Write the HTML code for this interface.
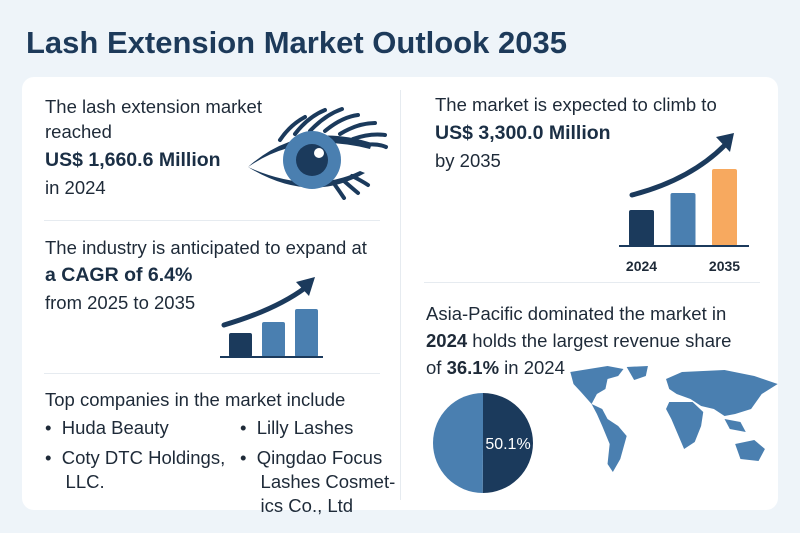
<!DOCTYPE html>
<html><head><meta charset="utf-8"><style>
body{margin:0;width:800px;height:533px;background:#eef4f9;font-family:"Liberation Sans",sans-serif;color:#1e2a38;position:relative;overflow:hidden}
.t{position:absolute;white-space:nowrap;font-size:18.5px;line-height:20px}
.b{font-weight:bold;font-size:19.5px;color:#1b2f45}
</style></head><body>
<div class="t" style="left:26px;top:25px;font-size:31px;line-height:36px;font-weight:bold;color:#1d3a5a">Lash Extension Market Outlook 2035</div>
<div style="position:absolute;left:22px;top:77px;width:756px;height:433px;background:#fff;border-radius:12px"></div>
<div style="position:absolute;left:400px;top:90px;width:1px;height:410px;background:#e6ebf0"></div>
<div style="position:absolute;left:44px;top:220px;width:336px;height:1px;background:#e6ebf0"></div>
<div style="position:absolute;left:44px;top:373px;width:336px;height:1px;background:#e6ebf0"></div>
<div style="position:absolute;left:424px;top:282px;width:336px;height:1px;background:#e6ebf0"></div>

<div class="t" style="left:45px;top:97px">The lash extension market</div>
<div class="t" style="left:45px;top:122px">reached</div>
<div class="t b" style="left:45px;top:150px">US$ 1,660.6 Million</div>
<div class="t" style="left:45px;top:178px">in 2024</div>

<svg style="position:absolute;left:240px;top:95px" width="150" height="105" viewBox="0 0 150 105">
<path d="M8,72 Q60,25 132,48 L130,54 Q60,36 8,72Z" fill="#1b3a5c"/>
<path d="M8,72 Q70,110 125,78 L120,76 Q70,100 8,72Z" fill="#1b3a5c"/>
<g stroke="#1b3a5c" stroke-width="4" fill="none" stroke-linecap="round">
<path d="M40,45 Q50,30 65,22"/><path d="M55,39 Q68,22 85,15"/><path d="M70,36 Q85,20 102,14"/><path d="M85,36 Q102,22 118,20"/><path d="M100,39 Q118,28 135,28"/><path d="M113,44 Q130,38 145,40"/><path d="M124,50 Q137,48 146,52"/>
<path d="M95,90 Q100,97 104,103"/><path d="M104,86 Q112,93 118,98"/><path d="M112,81 Q122,86 128,90"/></g>
<circle cx="72" cy="65" r="29" fill="#4a7fb0"/><circle cx="72" cy="65" r="16" fill="#1b3a5c"/><circle cx="79" cy="58" r="5" fill="#fff"/>
</svg>

<div class="t" style="left:45px;top:238px">The industry is anticipated to expand at</div>
<div class="t b" style="left:45px;top:265px">a CAGR of 6.4%</div>
<div class="t" style="left:45px;top:293px">from 2025 to 2035</div>
<svg id="c1" style="position:absolute;left:0;top:0" width="800" height="533"></svg>

<div class="t" style="left:45px;top:390px">Top companies in the market include</div>
<div class="t" style="left:45px;top:418px">•&nbsp;&nbsp;Huda Beauty</div>
<div class="t" style="left:45px;top:446px;line-height:24px">•&nbsp;&nbsp;Coty DTC Holdings,<br>&nbsp;&nbsp;&nbsp;&nbsp;LLC.</div>
<div class="t" style="left:240px;top:418px">•&nbsp;&nbsp;Lilly Lashes</div>
<div class="t" style="left:240px;top:446px;line-height:24px">•&nbsp;&nbsp;Qingdao Focus<br>&nbsp;&nbsp;&nbsp;&nbsp;Lashes Cosmet-<br>&nbsp;&nbsp;&nbsp;&nbsp;ics Co., Ltd</div>

<div class="t" style="left:435px;top:95px">The market is expected to climb to</div>
<div class="t b" style="left:435px;top:123px">US$ 3,300.0 Million</div>
<div class="t" style="left:435px;top:151px">by 2035</div>

<div class="t" style="left:426px;top:300px;line-height:27px">Asia-Pacific dominated the market in<br><b>2024</b> holds the largest revenue share<br>of <b>36.1%</b> in 2024</div>

<svg style="position:absolute;left:565px;top:364px" width="218" height="115" viewBox="0 0 205 115" preserveAspectRatio="none" fill="#4a7fb0">
<path d="M5,8 L40,2 L55,5 L50,12 L40,15 L38,25 L30,30 L25,40 L15,28 L8,20Z"/>
<path d="M58,3 L78,2 L76,12 L65,16Z"/>
<path d="M25,40 L35,45 L40,55 L50,62 L58,72 L52,95 L45,108 L40,100 L42,80 L35,62 L30,50Z"/>
<path d="M95,15 L110,8 L150,6 L178,12 L200,20 L185,30 L175,45 L160,50 L150,52 L140,45 L128,42 L118,35 L105,30 L98,25Z"/>
<path d="M98,38 L120,38 L130,48 L128,62 L122,78 L112,85 L106,70 L100,55 L95,45Z"/>
<path d="M160,80 L178,76 L188,85 L182,97 L165,95Z"/>
<path d="M150,55 L165,58 L170,68 L155,65Z"/>
</svg>
<svg id="pie" style="position:absolute;left:430px;top:390px" width="110" height="110"></svg>

<svg id="c2" style="position:absolute;left:0;top:0" width="800" height="533"></svg>

<script>
const cagrValues=[24,35,48];
const fcLabels=["2024","","2035"];
const fcValues=[36,53,77];
const pieValues=[50.1,49.9];
const pieLabel="50.1%";
const NS="http://www.w3.org/2000/svg";
function mk(p,tag,a){const e=document.createElementNS(NS,tag);for(const k in a)e.setAttribute(k,a[k]);p.appendChild(e);return e;}
const colors=["#1b3a5c","#4a7fb0","#f7a95f"];
const c1=document.getElementById('c1');
const y1=v=>357-v;
cagrValues.forEach((v,i)=>{const r=mk(c1,'rect',{x:229+i*33,y:y1(v),width:23,height:v,rx:2,fill:i==0?"#1b3a5c":"#4a7fb0"});

});
mk(c1,'line',{x1:220,y1:357,x2:323,y2:357,stroke:"#1b3a5c","stroke-width":2});
mk(c1,'path',{d:"M224,325 Q275,310 305,288",stroke:"#1b3a5c","stroke-width":5,fill:"none","stroke-linecap":"round"});
mk(c1,'path',{d:"M296,282 L315,277 L309,296Z",fill:"#1b3a5c"});
const c2=document.getElementById('c2');
const y2=v=>246-v;
fcValues.forEach((v,i)=>{const x=629+i*41.5;const r=mk(c2,'rect',{x:x,y:y2(v),width:25,height:v,rx:2,fill:colors[i]});


if(fcLabels[i]){const t=mk(c2,'text',{x:x+12.5,y:271,"text-anchor":"middle","font-size":14,"font-weight":"bold","fill":"#1e2a38","font-family":"Liberation Sans"});t.textContent=fcLabels[i];

}});
mk(c2,'line',{x1:619,y1:246,x2:749,y2:246,stroke:"#1b3a5c","stroke-width":2});
mk(c2,'path',{d:"M632,195 Q690,180 725,145",stroke:"#1b3a5c","stroke-width":5,fill:"none","stroke-linecap":"round"});
mk(c2,'path',{d:"M716,137 L734,133 L730,152Z",fill:"#1b3a5c"});
const pie=document.getElementById('pie');
const cx=53,cy=53,R=50;let a0=0;const tot=pieValues[0]+pieValues[1];
const pc=["#1b3a5c","#4a7fb0"];
pieValues.forEach((v,i)=>{const a1=a0+v/tot*2*Math.PI;
const p=mk(pie,'path',{d:`M${cx},${cy} L${cx+R*Math.sin(a0)},${cy-R*Math.cos(a0)} A${R},${R} 0 ${a1-a0>Math.PI?1:0} 1 ${cx+R*Math.sin(a1)},${cy-R*Math.cos(a1)}Z`,fill:pc[i]});

a0=a1;});
const pt=mk(pie,'text',{x:78,y:59,"text-anchor":"middle","font-size":16,fill:"#fff","font-family":"Liberation Sans"});pt.textContent=pieLabel;


</script>
</body></html>
